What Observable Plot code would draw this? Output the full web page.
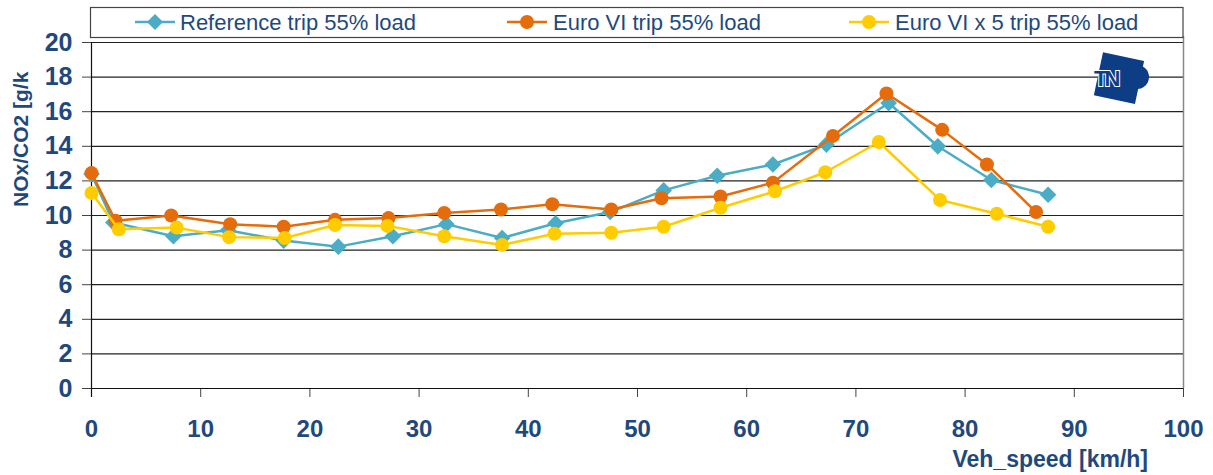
<!DOCTYPE html>
<html>
<head>
<meta charset="utf-8">
<script src="https://cdn.jsdelivr.net/npm/d3@7"></script>
<script src="https://cdn.jsdelivr.net/npm/@observablehq/plot@0.6"></script>
<style>
  html, body { margin: 0; padding: 0; background: #fff; }
  #chart svg { display: block; overflow: visible; }
</style>
</head>
<body>
<div id="chart"></div>
<script>
// ---- data ----
const seriesNames = ["Reference trip 55% load", "Euro VI trip 55% load", "Euro VI x 5 trip 55% load"];

const refSpeed = [0, 2.0, 7.5, 12.5, 17.6, 22.6, 27.6, 32.5, 37.6, 42.5, 47.5, 52.4, 57.3, 62.4, 67.3, 73.0, 77.5, 82.4, 87.6];
const refNox   = [12.4, 9.6, 8.8, 9.15, 8.55, 8.2, 8.8, 9.5, 8.7, 9.55, 10.2, 11.45, 12.3, 12.95, 14.1, 16.5, 14.0, 12.05, 11.2];

const e6Speed = [0, 2.2, 7.3, 12.7, 17.6, 22.3, 27.2, 32.3, 37.5, 42.2, 47.6, 52.2, 57.6, 62.4, 67.9, 72.8, 77.9, 82.0, 86.5];
const e6Nox   = [12.45, 9.7, 10.0, 9.5, 9.35, 9.75, 9.85, 10.15, 10.35, 10.65, 10.35, 11.0, 11.1, 11.9, 14.6, 17.05, 14.95, 12.95, 10.2];

const e6x5Speed = [0, 2.5, 7.8, 12.6, 17.7, 22.3, 27.1, 32.3, 37.6, 42.4, 47.6, 52.4, 57.6, 62.6, 67.2, 72.1, 77.7, 82.9, 87.6];
const e6x5Nox   = [11.3, 9.2, 9.3, 8.75, 8.7, 9.45, 9.4, 8.8, 8.3, 8.95, 9.0, 9.35, 10.45, 11.4, 12.5, 14.25, 10.9, 10.1, 9.35];

const xTicks = [0, 10, 20, 30, 40, 50, 60, 70, 80, 90, 100];
const yTicks = [0, 2, 4, 6, 8, 10, 12, 14, 16, 18, 20];
const xLabel = "Veh_speed [km/h]";
const yLabel = "NOx/CO2 [g/k";
const logoText = "TNO";

// ---- styles ----
const colors = ["#4bacc6", "#e46c0a", "#ffcc00"];
const symbols = ["diamond2", "circle", "circle"];
const textColor = "#1f497d";
const font = "'Liberation Sans', Arial, sans-serif";

const toRows = (xs, ys) => xs.map((x, i) => ({x, y: ys[i]}));
const series = [toRows(refSpeed, refNox), toRows(e6Speed, e6Nox), toRows(e6x5Speed, e6x5Nox)];

const seriesMarks = series.flatMap((rows, i) => [
  Plot.line(rows, {x: "x", y: "y", stroke: colors[i], strokeWidth: 2.5}),
  Plot.dot(rows, {x: "x", y: "y", fill: colors[i], symbol: symbols[i], r: i === 0 ? 7.5 : 7, stroke: "none"})
]);

const svg = Plot.plot({
  width: 1213,
  height: 475,
  marginLeft: 91,
  marginRight: 30,
  marginTop: 42,
  marginBottom: 87,
  style: {fontFamily: font, color: textColor, background: "#fff"},
  x: {domain: [0, 100], ticks: xTicks},
  y: {domain: [0, 20], ticks: yTicks},
  marks: [
    Plot.gridY(yTicks.filter(d => d > 0), {stroke: "#222", strokeOpacity: 1, strokeWidth: 1.2}),
    Plot.ruleX([100], {stroke: "#888", strokeWidth: 1.5, insetTop: -6}),
    Plot.axisX({ticks: xTicks, tickSize: 9, tickPadding: 22, fontSize: 24, fontWeight: "bold", fill: textColor, stroke: "#444", label: null}),
    Plot.axisY({ticks: yTicks, tickSize: 9, tickPadding: 10, fontSize: 25, fontWeight: "bold", fill: textColor, stroke: "#444", label: null}),
    Plot.ruleY([0], {stroke: "#111", strokeWidth: 1.2}),
    Plot.ruleX([0], {stroke: "#111", strokeWidth: 1.2, insetBottom: -9}),
    ...seriesMarks
  ]
});

document.getElementById("chart").appendChild(svg);

// ---- decorations: legend, axis titles, logo ----
const g = d3.select(svg).append("g").attr("font-family", font).attr("text-anchor", "start");

// legend box
g.append("rect").attr("x", 90.5).attr("y", 7.5).attr("width", 1092.5).attr("height", 30)
  .attr("fill", "#fff").attr("stroke", "#444").attr("stroke-width", 1.2);

const legendItems = [
  {lineX: 135, textX: 180},
  {lineX: 507, textX: 553},
  {lineX: 849, textX: 895}
];
seriesNames.forEach((name, i) => {
  const it = legendItems[i];
  const cy = 22;
  g.append("line").attr("x1", it.lineX).attr("x2", it.lineX + 40).attr("y1", cy).attr("y2", cy)
    .attr("stroke", colors[i]).attr("stroke-width", 2.5);
  const cx = it.lineX + 20;
  if (symbols[i] === "diamond2") {
    g.append("path").attr("d", `M${cx},${cy - 8}L${cx + 8},${cy}L${cx},${cy + 8}L${cx - 8},${cy}Z`).attr("fill", colors[i]);
  } else {
    g.append("circle").attr("cx", cx).attr("cy", cy).attr("r", 7).attr("fill", colors[i]);
  }
  g.append("text").attr("x", it.textX).attr("y", cy).attr("dy", "0.36em").attr("text-anchor", "start")
    .attr("font-size", 22).attr("fill", textColor).text(name);
});

// y title (rotated)
g.append("text").attr("transform", "translate(28,207) rotate(-90)").attr("text-anchor", "start")
  .attr("font-size", 21).attr("font-weight", "bold").attr("fill", textColor).text(yLabel);

// x title
g.append("text").attr("x", 1148).attr("y", 467).attr("text-anchor", "end")
  .attr("font-size", 23).attr("font-weight", "bold").attr("fill", textColor).text(xLabel);

// TNO logo approximation
const logoBlue = "#0d3d84";
const logo = g.append("g").attr("transform", "translate(1118,78)");
logo.append("rect").attr("x", -20).attr("y", -22).attr("width", 42).attr("height", 44)
  .attr("transform", "rotate(12)").attr("fill", logoBlue);
logo.append("circle").attr("cx", 19).attr("cy", -1).attr("r", 12).attr("fill", logoBlue);
logo.append("text").attr("x", -24).attr("y", 0).attr("dy", "0.36em").attr("text-anchor", "start")
  .attr("font-size", 22).attr("font-weight", "bold").attr("fill", logoBlue)
  .attr("stroke", "#fff").attr("stroke-width", 2).attr("paint-order", "stroke")
  .attr("letter-spacing", -3).text(logoText.slice(0, 2));
</script>
</body>
</html>
